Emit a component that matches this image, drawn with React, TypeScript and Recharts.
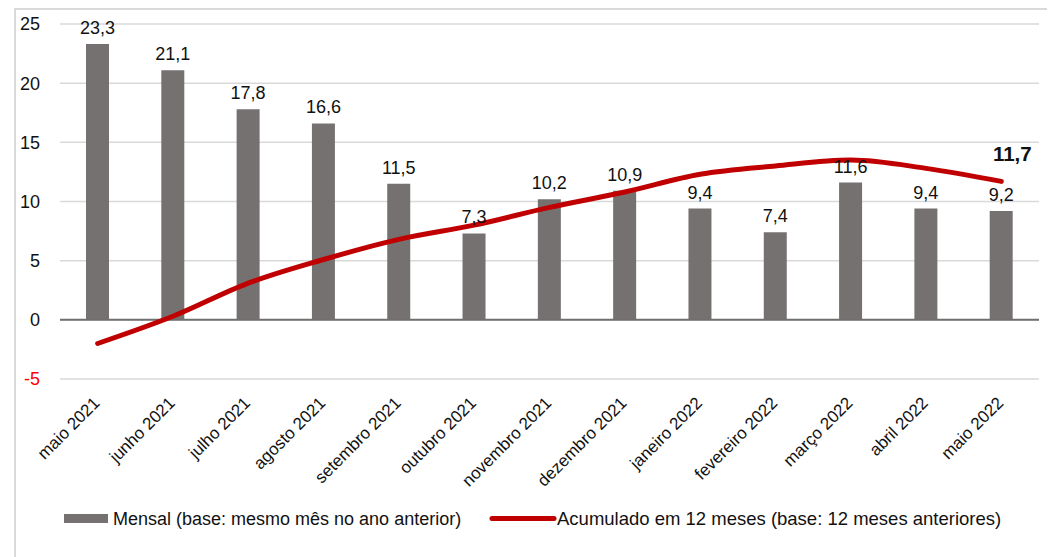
import React from "react";
import {
  ComposedChart,
  Bar,
  Line,
  XAxis,
  YAxis,
  CartesianGrid,
  ReferenceLine,
  LabelList,
  Legend,
} from "recharts";

const months = [
  "maio 2021",
  "junho 2021",
  "julho 2021",
  "agosto 2021",
  "setembro 2021",
  "outubro 2021",
  "novembro 2021",
  "dezembro 2021",
  "janeiro 2022",
  "fevereiro 2022",
  "março 2022",
  "abril 2022",
  "maio 2022",
];

const mensal = [23.3, 21.1, 17.8, 16.6, 11.5, 7.3, 10.2, 10.9, 9.4, 7.4, 11.6, 9.4, 9.2];

const acumulado = [-2.0, 0.3, 3.1, 5.1, 6.8, 8.0, 9.5, 10.8, 12.3, 13.0, 13.5, 12.8, 11.7];

const yTicks = [-5, 0, 5, 10, 15, 20, 25];

const mensalLabel = "Mensal (base: mesmo mês no ano anterior)";
const acumuladoLabel = "Acumulado em 12 meses (base: 12 meses anteriores)";

const data = months.map((m, i) => ({ month: m, mensal: mensal[i], acumulado: acumulado[i] }));

const FONT = "'Liberation Sans', Arial, sans-serif";
const BAR_COLOR = "#767171";
const LINE_COLOR = "#C00000";

const fmt = (v: number) => v.toFixed(1).replace(".", ",");

const YTick = (props: any) => {
  const { x, y, payload } = props;
  const v = payload.value as number;
  return (
    <text
      x={x}
      y={y}
      dy="0.36em"
      textAnchor="end"
      fontFamily={FONT}
      fontSize={18}
      fill={v < 0 ? "#FF0000" : "#111"}
    >
      {v}
    </text>
  );
};

const XTick = (props: any) => {
  const { x, y, payload } = props;
  const ax = x + 3;
  const ay = y + 25;
  return (
    <text
      x={ax}
      y={ay}
      textAnchor="end"
      fontFamily={FONT}
      fontSize={17}
      fill="#111"
      transform={`rotate(-45, ${ax}, ${ay})`}
    >
      {payload.value}
    </text>
  );
};

const BarValue = (props: any) => {
  const { x, y, width, value } = props;
  return (
    <text
      x={x + width / 2}
      y={y - 10}
      textAnchor="middle"
      fontFamily={FONT}
      fontSize={18}
      fill="#111"
    >
      {fmt(value)}
    </text>
  );
};

const LastLineValue = (props: any) => {
  const { x, y, index, value } = props;
  if (index !== acumulado.length - 1) return null;
  return (
    <text
      x={x + 11}
      y={y - 20}
      textAnchor="middle"
      fontFamily={FONT}
      fontSize={20.5}
      fontWeight="bold"
      fill="#111"
    >
      {fmt(value)}
    </text>
  );
};

const LegendContent = () => (
  <svg width={1039} height={30} style={{ display: "block" }}>
    <rect x={48} y={8} width={44} height={9} fill={BAR_COLOR} />
    <text x={97} y={19} fontFamily={FONT} fontSize={18} fill="#111">
      {mensalLabel}
    </text>
    <line x1={476} y1={12.5} x2={538} y2={12.5} stroke={LINE_COLOR} strokeWidth={5} strokeLinecap="round" />
    <text x={541} y={19} fontFamily={FONT} fontSize={18.5} fill="#111">
      {acumuladoLabel}
    </text>
  </svg>
);

export default function App() {
  return (
    <div
      style={{
        marginLeft: 6,
        borderTop: "2px solid #d9d9d9",
        borderLeft: "2px solid #d9d9d9",
        width: 1039,
        height: 547,
        position: "relative",
      }}
    >
      <ComposedChart
        width={1039}
        height={547}
        data={data}
        margin={{ top: 14, right: 16, left: 0, bottom: 0 }}
      >
        <CartesianGrid vertical={false} stroke="#d9d9d9" strokeWidth={1.5} />
        <XAxis
          dataKey="month"
          interval={0}
          height={178}
          axisLine={false}
          tickLine={false}
          tickSize={0}
          tickMargin={0}
          tick={<XTick />}
        />
        <YAxis
          width={44}
          domain={[-5, 25]}
          ticks={yTicks}
          axisLine={false}
          tickLine={false}
          tickSize={0}
          tickMargin={20}
          tick={<YTick />}
        />
        <ReferenceLine y={0} stroke="#6f6f6f" strokeWidth={2} />
        <Bar dataKey="mensal" fill={BAR_COLOR} barSize={23} isAnimationActive={false}>
          <LabelList dataKey="mensal" content={<BarValue />} />
        </Bar>
        <Line
          dataKey="acumulado"
          type="monotone"
          stroke={LINE_COLOR}
          strokeWidth={5}
          strokeLinecap="round"
          dot={false}
          activeDot={false}
          isAnimationActive={false}
        >
          <LabelList dataKey="acumulado" content={<LastLineValue />} />
        </Line>
        <Legend
          verticalAlign="middle"
          align="center"
          layout="horizontal"
          wrapperStyle={{ top: 496, left: 0, width: 1039 }}
          content={<LegendContent />}
        />
      </ComposedChart>
    </div>
  );
}
